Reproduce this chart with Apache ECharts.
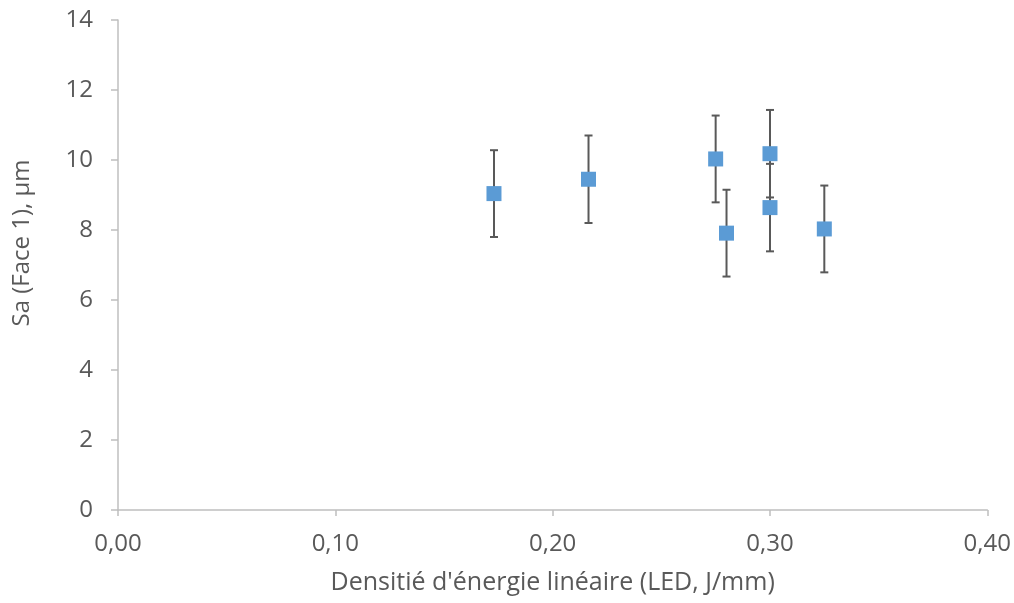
<!DOCTYPE html>
<html><head><meta charset="utf-8">
<script src="https://cdn.jsdelivr.net/npm/echarts@6/dist/echarts.min.js"></script>
<style>html,body{margin:0;padding:0;background:#fff}#c{width:1014px;height:603px}</style>
</head><body><div id="c"></div>
<script>
var xValues = [0.173, 0.2165, 0.275, 0.280, 0.300, 0.300, 0.325];
var yValues = [9.04, 9.45, 10.03, 7.91, 10.18, 8.64, 8.03];
var yErrors = [1.24, 1.25, 1.24, 1.24, 1.25, 1.25, 1.24];
var xTickLabels = ['0,00', '0,10', '0,20', '0,30', '0,40'];
var yTickLabels = ['0', '2', '4', '6', '8', '10', '12', '14'];
var xTitle = "Densitié d'énergie linéaire (LED, J/mm)";
var yTitle = 'Sa (Face 1), µm';

var points = xValues.map(function (x, i) { return [x, yValues[i]]; });
var errData = xValues.map(function (x, i) { return [x, yValues[i] - yErrors[i], yValues[i] + yErrors[i]]; });

var FONT = 'Open Sans';
var TXT = '#595959';
var chart = echarts.init(document.getElementById('c'), null, { renderer: 'canvas' });
chart.setOption({
  animation: false,
  backgroundColor: '#fff',
  grid: { left: 118, right: 26, top: 20, bottom: 93, containLabel: false },
  graphic: [{
    type: 'text', x: 22, y: 243, rotation: Math.PI / 2,
    style: { text: yTitle, fontFamily: FONT, fontSize: 24, fill: TXT, textAlign: 'center', textVerticalAlign: 'middle' }
  }],
  xAxis: {
    type: 'value', min: 0, max: 0.4, interval: 0.1,
    name: xTitle, nameLocation: 'middle', nameGap: 73,
    nameTextStyle: { fontFamily: FONT, fontSize: 25, color: TXT, verticalAlign: 'middle' },
    axisLine: { lineStyle: { color: '#bfbfbf', width: 1.5 } },
    axisTick: { show: true, length: 6, lineStyle: { color: '#bfbfbf', width: 1.5 } },
    axisLabel: { fontFamily: FONT, fontSize: 24, color: TXT, margin: 22,
      formatter: function (v) { return xTickLabels[Math.round(v / 0.1)]; } },
    splitLine: { show: false }
  },
  yAxis: {
    type: 'value', min: 0, max: 14, interval: 2,
    axisLine: { show: true, lineStyle: { color: '#bfbfbf', width: 1.5 } },
    axisTick: { show: true, length: 7, lineStyle: { color: '#bfbfbf', width: 1.5 } },
    axisLabel: { fontFamily: FONT, fontSize: 24, color: TXT, margin: 25,
      formatter: function (v) { return yTickLabels[Math.round(v / 2)]; } },
    splitLine: { show: false }
  },
  series: [
    {
      type: 'custom',
      data: errData,
      z: 1,
      renderItem: function (params, api) {
        var x = api.value(0);
        var lo = api.coord([x, api.value(1)]);
        var hi = api.coord([x, api.value(2)]);
        var hw = 4;
        var st = { stroke: '#595959', lineWidth: 2, fill: null };
        return {
          type: 'group',
          children: [
            { type: 'line', shape: { x1: lo[0], y1: lo[1], x2: hi[0], y2: hi[1] }, style: st },
            { type: 'line', shape: { x1: lo[0] - hw, y1: lo[1], x2: lo[0] + hw, y2: lo[1] }, style: st },
            { type: 'line', shape: { x1: hi[0] - hw, y1: hi[1], x2: hi[0] + hw, y2: hi[1] }, style: st }
          ]
        };
      }
    },
    {
      type: 'scatter',
      data: points,
      symbol: 'rect',
      symbolSize: 15,
      z: 3,
      itemStyle: { color: '#5b9bd5', opacity: 1 }
    }
  ]
});
</script></body></html>
